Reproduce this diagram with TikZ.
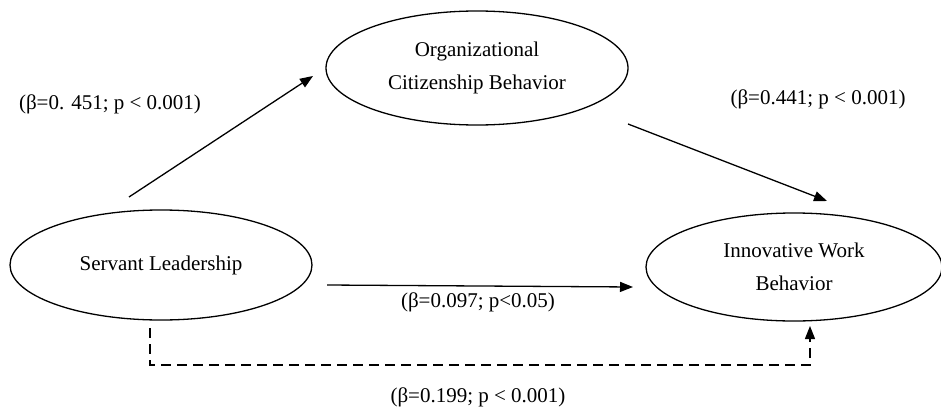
\documentclass[tikz,border=0pt]{standalone}
\usepackage{fontspec}
\setmainfont{Liberation Serif}
\usetikzlibrary{arrows.meta,shapes.geometric}
\begin{document}
\begin{tikzpicture}[x=1pt,y=-1pt,
  construct/.style={draw,line width=1.3pt,ellipse,inner sep=0pt,align=center,
    font=\fontsize{21}{33}\selectfont},
  lbl/.style={font=\fontsize{21}{25}\selectfont,inner sep=0pt},
  path/.style={line width=1.3pt,-{Triangle[length=13pt,width=10pt]}},
  dpath/.style={path,dash pattern=on 10pt off 6pt}]
\fill[white] (0,0) rectangle (941,412);
\useasboundingbox (0,0) rectangle (941,412);
\node[construct,minimum width=302pt,minimum height=114pt] (ocb) at (477,68) {Organizational\\Citizenship Behavior};
\node[construct,minimum width=302pt,minimum height=110pt] (sl) at (161,265) {Servant Leadership};
\node[construct,minimum width=296pt,minimum height=108pt] (iwb) at (794,267) {Innovative Work\\Behavior};
\coordinate (a1) at (129,197);
\coordinate (a2) at (313,76);
\coordinate (b1) at (628,124);
\coordinate (b2) at (827,201);
\coordinate (c1) at (327,285);
\coordinate (c2) at (633,287);
\coordinate (d1) at (150,328);
\coordinate (d2) at (810,365);
\coordinate (d3) at (810,326);
\draw[path] (a1) -- (a2);
\draw[path] (b1) -- (b2);
\draw[path] (c1) -- (c2);
\draw[dpath] (d1) |- (d2) -- (d3);
\node[lbl] (l1) at (110,104) {(β=0. 451; p < 0.001)};
\node[lbl] (l2) at (818,99) {(β=0.441; p < 0.001)};
\node[lbl] (l3) at (478,302) {(β=0.097; p<0.05)};
\node[lbl] (l4) at (478,397) {(β=0.199; p < 0.001)};
\end{tikzpicture}
\end{document}
